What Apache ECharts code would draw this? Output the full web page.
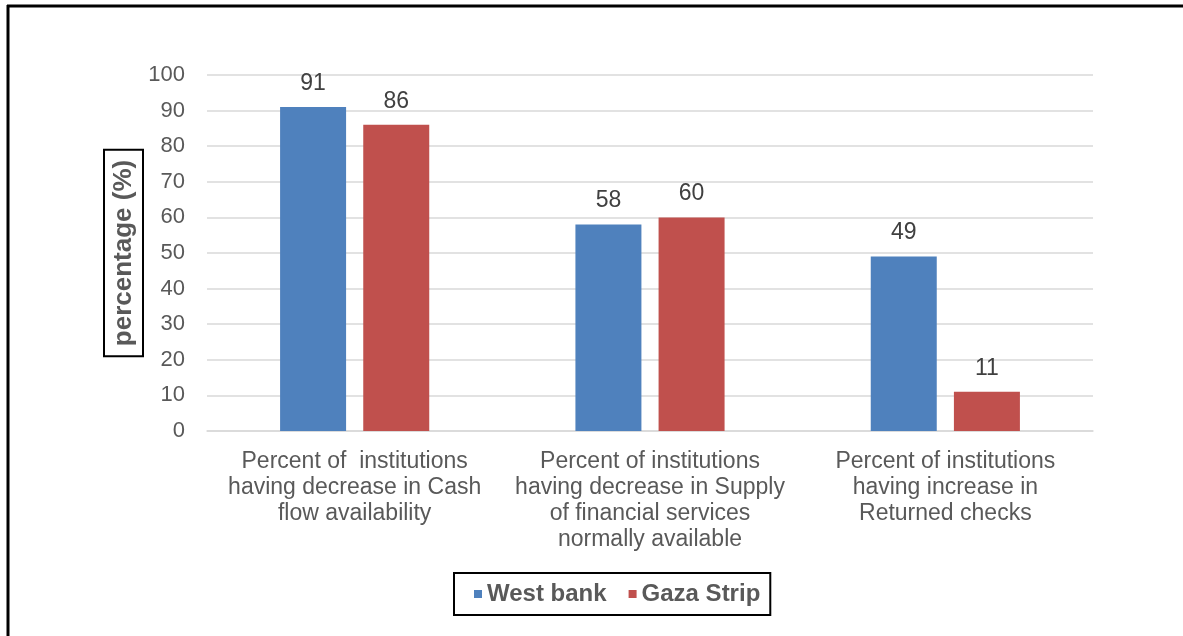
<!DOCTYPE html>
<html>
<head>
<meta charset="utf-8">
<script src="https://cdn.jsdelivr.net/npm/echarts@6/dist/echarts.min.js"></script>
<style>
html,body{margin:0;padding:0;background:#fff;}
#chart{width:1183px;height:636px;}
</style>
</head>
<body>
<div id="chart"></div>
<script>
const categories = [
  "Percent of  institutions\nhaving decrease in Cash\nflow availability",
  "Percent of institutions\nhaving decrease in Supply\nof financial services\nnormally available",
  "Percent of institutions\nhaving increase in\nReturned checks"
];
const seriesNames = ["West bank", "Gaza Strip"];
const westBank = [91, 58, 49];
const gazaStrip = [86, 60, 11];
const yTicks = { min: 0, max: 100, interval: 10 };
const yAxisTitle = "percentage (%)";

const chart = echarts.init(document.getElementById('chart'), null, { renderer: 'canvas' });
const font = "Liberation Sans, Arial, sans-serif";
const valueLabel = {
  show: true, position: 'top', distance: 12,
  color: '#404040', fontSize: 23, fontFamily: font
};
chart.setOption({
  animation: false,
  backgroundColor: '#fff',
  grid: { left: 207, right: 90, top: 75, bottom: 205 },
  legend: {
    data: seriesNames,
    left: 454, top: 573,
    padding: [8, 10, 8, 20],
    borderColor: '#000', borderWidth: 2,
    icon: 'rect', itemWidth: 8, itemHeight: 8, itemGap: 22,
    textStyle: { color: '#595959', fontSize: 24, lineHeight: 26, fontWeight: 'bold', fontFamily: font }
  },
  xAxis: {
    type: 'category',
    data: categories,
    axisLine: { lineStyle: { color: '#d9d9d9', width: 1.5 } },
    axisTick: { show: false },
    axisLabel: {
      interval: 0, margin: 18, color: '#595959', fontSize: 23,
      lineHeight: 26, fontFamily: font, align: 'center'
    }
  },
  yAxis: {
    type: 'value',
    min: yTicks.min, max: yTicks.max, interval: yTicks.interval,
    name: yAxisTitle,
    nameLocation: 'middle',
    nameRotate: 90,
    nameGap: 64,
    nameMoveOverlap: false,
    nameTextStyle: {
      color: '#595959', fontSize: 26, lineHeight: 26, fontWeight: 'bold', fontFamily: font,
      borderColor: '#000', borderWidth: 2, padding: [7, 10, 6, 10]
    },
    axisLine: { show: false },
    axisTick: { show: false },
    axisLabel: { color: '#595959', fontSize: 22, margin: 22, fontFamily: font },
    splitLine: { lineStyle: { color: '#d9d9d9', width: 1.5 } }
  },
  series: [
    {
      name: seriesNames[0], type: 'bar', data: westBank,
      barWidth: 66, barGap: '26%',
      itemStyle: { color: '#4F81BD' },
      label: valueLabel
    },
    {
      name: seriesNames[1], type: 'bar', data: gazaStrip,
      barWidth: 66,
      itemStyle: { color: '#C0504D' },
      label: valueLabel
    }
  ],
  graphic: [
    { type: 'line', shape: { x1: 7, y1: 6, x2: 1183, y2: 6 }, style: { stroke: '#000', lineWidth: 3 } },
    { type: 'line', shape: { x1: 8, y1: 5, x2: 8, y2: 636 }, style: { stroke: '#000', lineWidth: 3 } }
  ]
});
</script>
</body>
</html>
